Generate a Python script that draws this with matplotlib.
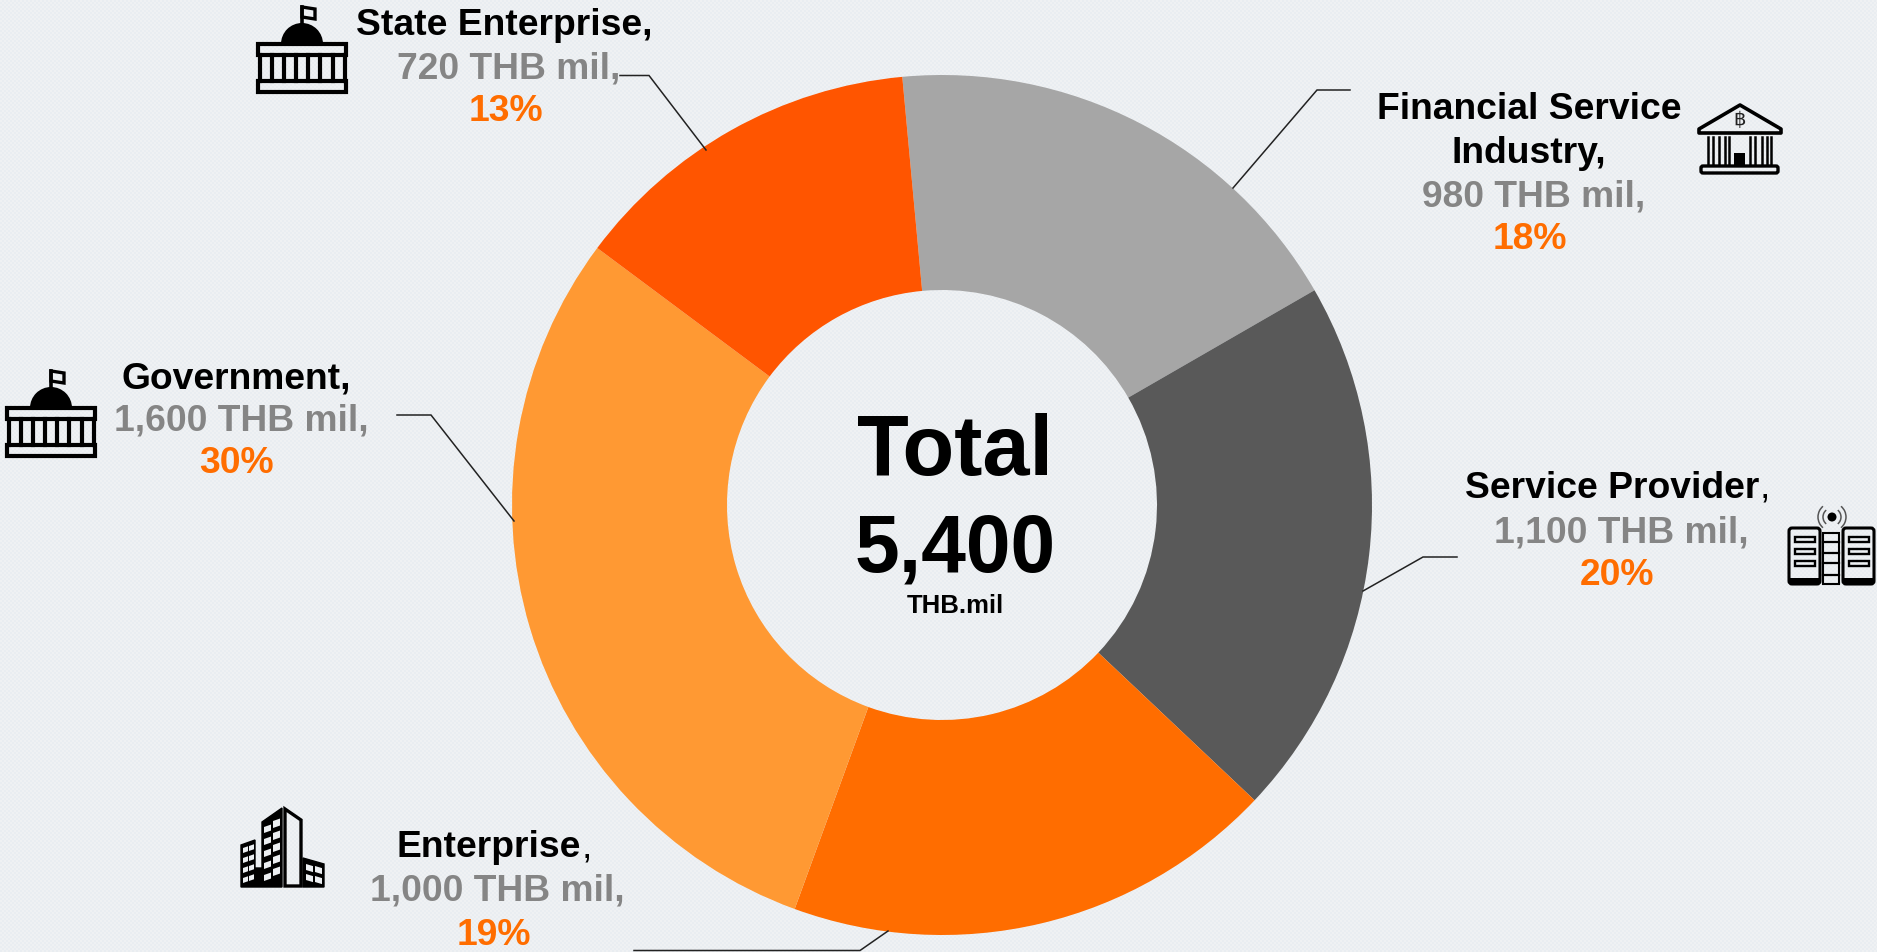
import numpy as np
import matplotlib
matplotlib.use('Agg')
import matplotlib.pyplot as plt
from matplotlib.patches import Rectangle, Polygon, Wedge, Circle, Arc, FancyBboxPatch

plt.rcParams['font.family'] = ['Liberation Sans', 'DejaVu Sans']

# Data
categories = ['Financial Service\nIndustry', 'Service Provider', 'Enterprise', 'Government', 'State Enterprise']
values = [980, 1100, 1000, 1600, 720]
value_labels = ['980 THB mil,', '1,100 THB mil,', '1,000 THB mil,', '1,600 THB mil,', '720 THB mil,']
pct_labels = ['18%', '20%', '19%', '30%', '13%']
colors = ['#A6A6A6', '#595959', '#FF6D00', '#FF9933', '#FF5500']

W, H = 1877, 952
BG = '#ECEFF2'
GREY = '#858585'
ORANGE = '#FF6D00'

fig = plt.figure(figsize=(W / 100, H / 100), dpi=100, facecolor=BG)

# background dot texture
bg_ax = fig.add_axes([0, 0, 1, 1], zorder=0)
yy, xx = np.mgrid[0:H, 0:W]
mask = ((xx % 4 < 2) & (yy % 4 < 2)) | (((xx + 2) % 4 < 2) & ((yy + 2) % 4 < 2))
tex = np.empty((H, W, 3))
tex[...] = np.array([0xE9, 0xED, 0xF1]) / 255
tex[mask] = np.array([0xEF, 0xF1, 0xF3]) / 255
bg_ax.imshow(tex, aspect='auto', interpolation='nearest')
bg_ax.axis('off')

# donut
cx, cy, R = 942, 505, 430
ax = fig.add_axes([(cx - R) / W, 1 - (cy + R) / H, 2 * R / W, 2 * R / H], zorder=1)
ax.pie(values, colors=colors, startangle=95.3, counterclock=False, radius=1,
       wedgeprops=dict(width=0.5, linewidth=0))
ax.set_xlim(-1, 1)
ax.set_ylim(-1, 1)
ax.axis('off')

# overlay in pixel coordinates
ov = fig.add_axes([0, 0, 1, 1], zorder=2)
ov.set_xlim(0, W)
ov.set_ylim(H, 0)
ov.axis('off')
ov.patch.set_alpha(0)

# leader lines
leaders = [
    ([1350, 1317, 1233], [90, 90, 188]),
    ([1457, 1423, 1363], [557, 557, 591]),
    ([634, 860, 888], [950.5, 950.5, 931]),
    ([397, 431, 514], [415, 415, 521]),
    ([620, 649, 706], [75.5, 75.5, 150]),
]
for lx, ly in leaders:
    ov.plot(lx, ly, color='#222222', lw=1.1, solid_joinstyle='miter')

FS = 26.8


def name_line(x, y, s, comma_bold=True):
    if comma_bold:
        ov.text(x, y, s + ',', fontsize=FS, fontweight='bold', ha='center', va='baseline', color='black')
    else:
        t = ov.text(x - 4, y, s, fontsize=FS, fontweight='bold', ha='center', va='baseline', color='black')
        ov.annotate(',', xy=(1, 0), xycoords=t, xytext=(0, 0), textcoords='offset points',
                    fontsize=FS, ha='left', va='bottom', color='black')


# labels: name lines, then value, then percent
ov.text(1529, 119, 'Financial Service', fontsize=FS, fontweight='bold', ha='center', va='baseline', color='black')
name_line(1529, 163, 'Industry')
name_line(1616, 498, categories[1], False)
name_line(493, 857, categories[2], False)
name_line(236, 388, categories[3])
name_line(504, 35, categories[4])

val_pos = [(1534, 206), (1621, 542), (497, 900), (241, 431), (509, 78)]
pct_pos = [(1530, 249), (1617, 585), (494, 945), (236, 473), (506, 121)]
for i in range(5):
    ov.text(val_pos[i][0], val_pos[i][1], value_labels[i], fontsize=FS, fontweight='bold',
            ha='center', va='baseline', color=GREY)
    ov.text(pct_pos[i][0], pct_pos[i][1], pct_labels[i], fontsize=FS, fontweight='bold',
            ha='center', va='baseline', color=ORANGE)

# centre
ov.text(955, 475, 'Total', fontsize=61, fontweight='bold', ha='center', va='baseline', color='black')
ov.text(955.5, 571, '5,400', fontsize=58, fontweight='bold', ha='center', va='baseline', color='black')
ov.text(955, 613, 'THB.mil', fontsize=18.5, fontweight='bold', ha='center', va='baseline', color='black')


# icons
def capitol(x, y):
    lw = 3.0
    ov.add_patch(Wedge((x + 45, y + 44), 21, 180, 360, fc='black', ec='none'))
    ov.plot([x + 45, x + 45], [y + 24, y + 7], color='black', lw=2.6)
    ov.add_patch(Polygon([(x + 45, y + 7), (x + 58, y + 9), (x + 58, y + 19), (x + 45, y + 17)],
                         closed=True, fc='none', ec='black', lw=2.4))
    ov.add_patch(Rectangle((x + 1, y + 44), 88, 11, fc='none', ec='black', lw=lw))
    ov.add_patch(Rectangle((x + 1, y + 81), 88, 11, fc='none', ec='black', lw=lw))
    for k in range(8):
        px = x + 3 + k * 12.1
        ov.plot([px, px], [y + 55, y + 81], color='black', lw=lw)


capitol(257, 0)
capitol(6, 364)

# bank icon
bx, by = 1698, 104
ov.add_patch(Polygon([(bx + 1, by + 25), (bx + 42, by + 1), (bx + 83, by + 25), (bx + 83, by + 29), (bx + 1, by + 29)],
                     closed=True, fc='none', ec='black', lw=2.6, joinstyle='round'))
ov.text(bx + 42, by + 16, '฿', fontsize=14, ha='center', va='center', color='#222222',
        family=['DejaVu Sans'])
for px in [10, 15, 21, 27, 31, 52, 57, 64, 69, 73]:
    ov.plot([bx + px, bx + px], [by + 33, by + 60], color='black', lw=1.8)
ov.add_patch(Rectangle((bx + 36, by + 49), 11, 12, fc='black', ec='none'))
ov.add_patch(FancyBboxPatch((bx + 3, by + 62), 77, 7, boxstyle='round,pad=0,rounding_size=2',
                            fc='none', ec='black', lw=2.4))

# server/antenna icon
sx, sy = 1789, 528
for ox in [0, 54]:
    ov.add_patch(FancyBboxPatch((sx + ox, sy), 31, 56, boxstyle='round,pad=0,rounding_size=3',
                                fc='none', ec='black', lw=2.2))
    ov.add_patch(Rectangle((sx + ox, sy + 50), 31, 6, fc='black', ec='none'))
    for oy in [9, 21, 33]:
        ov.add_patch(Rectangle((sx + ox + 6, sy + oy), 20, 5, fc='none', ec='black', lw=1.7))
ov.add_patch(Rectangle((sx + 34, sy + 5), 16, 51, fc='none', ec='black', lw=1.5))
for oy in [14, 25, 35, 47]:
    ov.plot([sx + 34, sx + 50], [sy + oy, sy + oy], color='black', lw=1.6)
ov.add_patch(Circle((sx + 43, sy - 11), 4.5, fc='black', ec='none'))
for r in [9, 14]:
    ov.add_patch(Arc((sx + 43, sy - 11), 2 * r, 2 * r, theta1=-50, theta2=50, color='#555555', lw=1.1))
    ov.add_patch(Arc((sx + 43, sy - 11), 2 * r, 2 * r, theta1=130, theta2=230, color='#555555', lw=1.1))


# buildings icon
def window(x0, x1, y0, h, slope):
    y1 = y0 + (x1 - x0) * slope
    ov.add_patch(Polygon([(x0, y0), (x1, y1), (x1, y1 + h), (x0, y0 + h)], closed=True, fc=BG, ec='none'))


ov.add_patch(Polygon([(262, 822), (282, 808), (282, 887), (241, 887), (241, 845), (255, 840), (255, 868), (262, 868)],
                     closed=True, fc='black', ec='black', lw=1))
for r in range(5):
    window(264, 271, 827 + r * 12, 6, -0.35)
    window(273, 280, 821 + r * 12, 7, -0.35)
for r in range(4):
    window(243, 248, 848 + r * 10, 5, -0.35)
    window(249, 254, 846 + r * 10, 5, -0.35)
ov.add_patch(Polygon([(285, 809), (301, 820), (301, 886), (285, 886)], closed=True, fc='none', ec='black', lw=2.4))
ov.add_patch(Polygon([(303, 858), (324, 864), (324, 887), (303, 887)], closed=True, fc='black', ec='black', lw=1))
for r in range(2):
    window(306, 313, 864 + r * 10, 6, 0.3)
    window(315, 322, 866 + r * 10, 6, 0.3)

fig.savefig('out.png', dpi=100, facecolor=BG)
